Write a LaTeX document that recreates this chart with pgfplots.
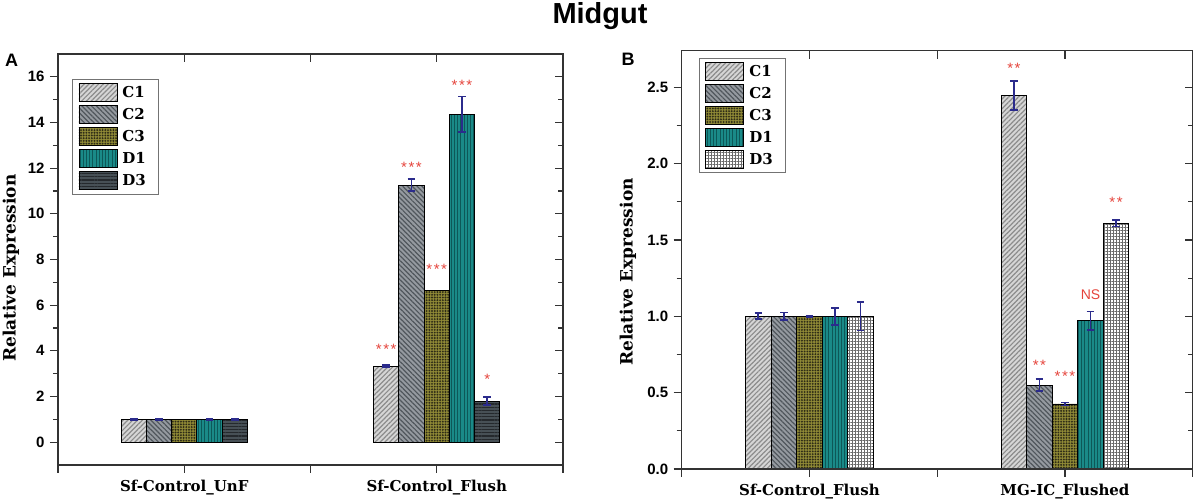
\documentclass[border=0pt]{standalone}
\usepackage{pgfplots}
\pgfplotsset{compat=1.18}
\usetikzlibrary{patterns.meta}
\usepackage{fontspec}
\setmainfont{DejaVu Serif}
\newfontfamily\sansf{Liberation Sans}
\newfontfamily\serifb{DejaVu Serif}

\definecolor{c1fill}{HTML}{D6D6D6}
\definecolor{c1line}{HTML}{8C8C8C}
\definecolor{c2fill}{HTML}{959AA0}
\definecolor{c2line}{HTML}{50565C}
\definecolor{c3fill}{HTML}{8F8936}
\definecolor{c3line}{HTML}{2E2C16}
\definecolor{d1fill}{HTML}{1A8A88}
\definecolor{d1line}{HTML}{0D5858}
\definecolor{d3afill}{HTML}{475056}
\definecolor{d3aline}{HTML}{25292D}
\definecolor{d3bline}{HTML}{6A6A6A}
\definecolor{errblue}{HTML}{2B2B8C}
\definecolor{starred}{HTML}{E5443C}
\definecolor{axcol}{HTML}{333333}

\tikzset{startxt/.style={text=starred, font=\sansf\fontsize{15}{15}\selectfont, inner sep=0pt}}

\pgfplotsset{
  legimg/.style={legend image code/.code={\draw[##1] (0pt,-9pt) rectangle (38pt,9pt); \path (41pt,0pt);}},
  barC1/.style={fill=c1fill, draw=black, line width=0.9pt, legimg,
    postaction={pattern={Lines[angle=45,distance=3.4pt,line width=1.2pt]}, pattern color=c1line}},
  barC2/.style={fill=c2fill, draw=black, line width=0.9pt, legimg,
    postaction={pattern={Lines[angle=-45,distance=3.4pt,line width=1.2pt]}, pattern color=c2line}},
  barC3/.style={fill=c3fill, draw=black, line width=0.9pt, legimg,
    postaction={pattern={Dots[radius=1.05pt,distance=2.7pt]}, pattern color=c3line}},
  barD1/.style={fill=d1fill, draw=black, line width=0.9pt, legimg,
    postaction={pattern={Lines[angle=90,distance=3.2pt,line width=1pt]}, pattern color=d1line}},
  barD3a/.style={fill=d3afill, draw=black, line width=0.9pt, legimg,
    postaction={pattern={Lines[angle=0,distance=3.2pt,line width=1.1pt]}, pattern color=d3aline}},
  barD3b/.style={fill=white, draw=black, line width=0.9pt, legimg,
    postaction={pattern={Hatch[angle=0,distance=3pt,line width=0.7pt]}, pattern color=d3bline}},
  common/.style={
    scale only axis, xmin=0.5, xmax=2.5,
    xtick={0.5,1,1.5,2,2.5},
    ybar, bar width=0.1, bar shift=0pt,
    axis line style={line width=1.2pt, axcol},
    major tick length=8pt, minor tick length=5pt,
    every tick/.style={line width=1.1pt, axcol},
    tick pos=left, tick align=outside,
    xticklabel style={font=\serifb\bfseries\fontsize{15}{17}\selectfont, yshift=-4pt},
    yticklabel style={font=\sansf\bfseries\fontsize{15}{17}\selectfont, xshift=-2pt},
    /pgf/number format/assume math mode=true,
    ylabel style={font=\serifb\bfseries\fontsize{17}{19}\selectfont},
    legend cell align=left,
    legend style={draw=black!55, line width=0.8pt, fill=white,
      font=\serifb\bfseries\fontsize{15}{17}\selectfont,
      inner xsep=6pt, inner ysep=4pt, row sep=3pt},
    error bars/error bar style={line width=1.8pt, errblue},
    error bars/error mark options={rotate=90, mark size=3.8pt, line width=1.8pt, errblue},
  },
  mirrorax/.style={
    scale only axis, xmin=0.5, xmax=2.5, xtick={0.5,1,1.5,2,2.5},
    axis line style={line width=1.2pt, axcol},
    major tick length=8pt, minor tick length=5pt,
    every tick/.style={line width=1.1pt, axcol},
    tick pos=right, tick align=inside,
    xticklabels={}, yticklabels={},
  },
}

\begin{document}
\begin{tikzpicture}
\useasboundingbox (0,0) rectangle (1199pt,500pt);

\node[font=\sansf\bfseries\fontsize{29}{31}\selectfont, anchor=base, inner sep=0pt] at (600pt,476.5pt) {Midgut};
\node[font=\sansf\bfseries\fontsize{18}{20}\selectfont] at (11.5pt,440pt) {A};
\node[font=\sansf\bfseries\fontsize{18}{20}\selectfont] at (628pt,441pt) {B};

% ---------------- Panel A ----------------
\begin{axis}[common, at={(58pt,35pt)}, anchor=south west,
  width=505pt, height=411pt, ymin=-1, ymax=17,
  ytick={0,2,...,16}, minor y tick num=1,
  xticklabels={,Sf-Control\_UnF,,Sf-Control\_Flush,},
  ylabel={Relative Expression},
  ylabel style={at={(axis description cs:-0.093,0.479)}, anchor=center},
  legend style={at={(0.028,0.939)}, anchor=north west}]
\addplot[barC1, error bars/.cd, y dir=both, y explicit] coordinates {(0.8,1.0) +- (0,0.03) (1.8,3.33) +- (0,0.05)};
\addplot[barC2, error bars/.cd, y dir=both, y explicit] coordinates {(0.9,1.0) +- (0,0.03) (1.9,11.26) +- (0,0.25)};
\addplot[barC3] coordinates {(1.0,1.0) (2.0,6.65)};
\addplot[barD1, error bars/.cd, y dir=both, y explicit] coordinates {(1.1,1.0) +- (0,0.04) (2.1,14.37) +- (0,0.77)};
\addplot[barD3a, error bars/.cd, y dir=both, y explicit] coordinates {(1.2,1.0) +- (0,0.03) (2.2,1.80) +- (0,0.17)};
\legend{C1\hspace*{5pt},C2\hspace*{5pt},C3\hspace*{5pt},D1\hspace*{5pt},D3\hspace*{5pt}}
\node[startxt] at (axis cs:1.8,4.05) {*\kern1.5pt*\kern1.5pt*};
\node[startxt] at (axis cs:1.9,12.02) {*\kern1.5pt*\kern1.5pt*};
\node[startxt] at (axis cs:2.0,7.59) {*\kern1.5pt*\kern1.5pt*};
\node[startxt] at (axis cs:2.1,15.61) {*\kern1.5pt*\kern1.5pt*};
\node[startxt] at (axis cs:2.2,2.75) {*};
\end{axis}
\begin{axis}[mirrorax, at={(58pt,35pt)}, anchor=south west,
  width=505pt, height=411pt, ymin=-1, ymax=17,
  ytick={0,2,...,16}, minor y tick num=1]
\end{axis}

% ---------------- Panel B ----------------
\begin{axis}[common, at={(681.7pt,31pt)}, anchor=south west,
  width=511pt, height=418.3pt, ymin=0, ymax=2.74,
  ytick={0,0.5,...,2.5}, minor y tick num=1,
  yticklabel style={/pgf/number format/.cd, fixed, fixed zerofill, precision=1},
  xticklabels={,Sf-Control\_Flush,,MG-IC\_Flushed,},
  ylabel={Relative Expression},
  ylabel style={at={(axis description cs:-0.105,0.471)}, anchor=center},
  legend style={at={(0.034,0.983)}, anchor=north west}]
\addplot[barC1, error bars/.cd, y dir=both, y explicit] coordinates {(0.8,1.0) +- (0,0.02) (1.8,2.446) +- (0,0.095)};
\addplot[barC2, error bars/.cd, y dir=both, y explicit] coordinates {(0.9,1.0) +- (0,0.025) (1.9,0.55) +- (0,0.037)};
\addplot[barC3, error bars/.cd, y dir=both, y explicit] coordinates {(1.0,1.0) +- (0,0.005) (2.0,0.426) +- (0,0.01)};
\addplot[barD1, error bars/.cd, y dir=both, y explicit] coordinates {(1.1,1.0) +- (0,0.055) (2.1,0.97) +- (0,0.062)};
\addplot[barD3b, error bars/.cd, y dir=both, y explicit] coordinates {(1.2,1.0) +- (0,0.093) (2.2,1.61) +- (0,0.022)};
\legend{C1\hspace*{5pt},C2\hspace*{5pt},C3\hspace*{5pt},D1\hspace*{5pt},D3\hspace*{5pt}}
\node[startxt] at (axis cs:1.8,2.625) {*\kern1.5pt*};
\node[startxt] at (axis cs:1.9,0.68) {*\kern1.5pt*};
\node[startxt] at (axis cs:2.0,0.607) {*\kern1.5pt*\kern1.5pt*};
\node[text=starred, font=\sansf\fontsize{14}{14}\selectfont, inner sep=0pt] at (axis cs:2.1,1.14) {NS};
\node[startxt] at (axis cs:2.2,1.747) {*\kern1.5pt*};
\end{axis}
\begin{axis}[mirrorax, at={(681.7pt,31pt)}, anchor=south west,
  width=511pt, height=418.3pt, ymin=0, ymax=2.74,
  ytick={0,0.5,...,2.5}, minor y tick num=1]
\end{axis}
\end{tikzpicture}
\end{document}
